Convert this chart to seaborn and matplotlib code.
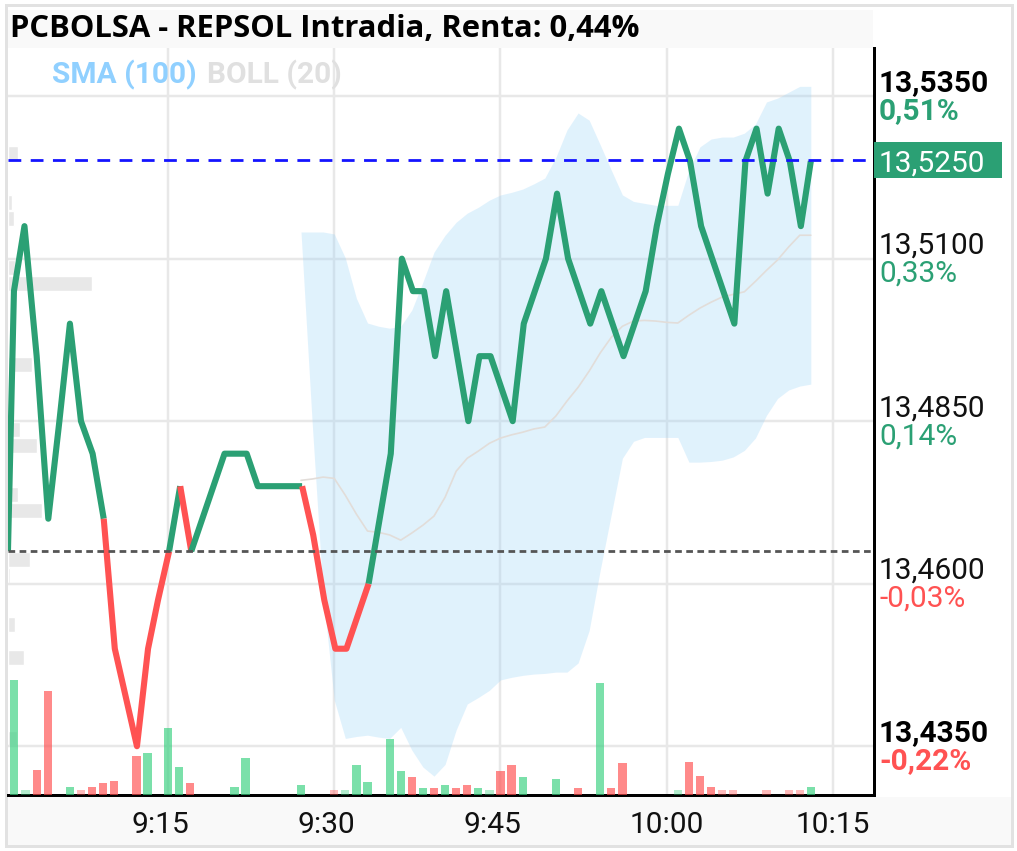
#!/usr/bin/env python3

import matplotlib
matplotlib.use("Agg")
import matplotlib.pyplot as plt
import seaborn as sns
from matplotlib.patches import Rectangle
from matplotlib.transforms import ScaledTranslation

GREEN = "#2ba074"
RED = "#ff5252"

# minutes after 9:00
price_minutes = [0.56, 1.1, 2.05, 3.15, 4.2, 5.2, 6.15, 7.15, 8.2, 9.2, 10.2, 11.2, 12.2, 13.2, 14.1] \
    + [m + 0.1 for m in range(15, 73)] + [73]
prices = [
    13.465, 13.505, 13.515, 13.495, 13.470, 13.485, 13.500, 13.485, 13.480, 13.470,
    13.450, 13.4425, 13.435, 13.450, 13.4575, 13.465, 13.475, 13.465, 13.470, 13.475,
    13.480, 13.480, 13.480, 13.475, 13.475, 13.475, 13.475, 13.475, 13.4675, 13.4575,
    13.450, 13.450, 13.455, 13.460, 13.470, 13.480, 13.510, 13.505, 13.505, 13.495,
    13.505, 13.495, 13.485, 13.495, 13.495, 13.490, 13.485, 13.500, 13.505, 13.510,
    13.520, 13.510, 13.505, 13.500, 13.505, 13.500, 13.495, 13.500, 13.505, 13.515,
    13.523, 13.530, 13.525, 13.515, 13.510, 13.505, 13.500, 13.525, 13.530, 13.520,
    13.530, 13.525, 13.515, 13.525,
]
# index ranges of prices drawn in red, the rest is green
red_runs = [(9, 15), (16, 17), (27, 33)]

band_minutes = list(range(27, 74))
band_upper = [
    13.5141, 13.5141, 13.5141, 13.5138, 13.5101, 13.5039, 13.5001, 13.4996, 13.4993, 13.4996,
    13.5021, 13.5064, 13.5110, 13.5136, 13.5156, 13.5170, 13.5179, 13.5190, 13.5198, 13.5202,
    13.5207, 13.5215, 13.5224, 13.5256, 13.5298, 13.5324, 13.5313, 13.5275, 13.5236, 13.5198,
    13.5188, 13.5185, 13.5182, 13.5182, 13.5182, 13.5236, 13.5272, 13.5284, 13.5287, 13.5287,
    13.5293, 13.5307, 13.5341, 13.5347, 13.5356, 13.5365, 13.5365,
]
band_lower = [
    13.5141, 13.4850, 13.4582, 13.4421, 13.4362, 13.4365, 13.4367, 13.4364, 13.4362, 13.4379,
    13.4344, 13.4318, 13.4304, 13.4322, 13.4375, 13.4415, 13.4425, 13.4436, 13.4452, 13.4456,
    13.4459, 13.4461, 13.4462, 13.4464, 13.4464, 13.4478, 13.4528, 13.4621, 13.4707, 13.4793,
    13.4819, 13.4825, 13.4825, 13.4825, 13.4825, 13.4787, 13.4787, 13.4788, 13.4790, 13.4795,
    13.4805, 13.4824, 13.4859, 13.4885, 13.4898, 13.4904, 13.4907,
]
band_mid = [
    13.4759, 13.4761, 13.4764, 13.4762, 13.4736, 13.4707, 13.4681, 13.4679, 13.4675, 13.4667,
    13.4678, 13.4690, 13.4704, 13.4733, 13.4773, 13.4793, 13.4804, 13.4816, 13.4824, 13.4829,
    13.4833, 13.4838, 13.4841, 13.4858, 13.4881, 13.4902, 13.4927, 13.4955, 13.4979, 13.4996,
    13.5004, 13.5005, 13.5004, 13.5002, 13.5001, 13.5013, 13.5024, 13.5033, 13.5041, 13.5045,
    13.5049, 13.5065, 13.5082, 13.5098, 13.5118, 13.5136, 13.5136,
]

volume_minutes = [
    1.1, 2.15, 3.15, 4.15, 6.15, 7.15, 8.15, 9.15, 10.15, 12.15, 13.15, 15, 16, 17, 21, 22, 27, 30, 31, 32, 33, 35, 36, 37, 38,
    39, 40, 41, 42, 43, 44, 45, 46, 47, 50, 52, 54, 55, 56, 61, 62, 63, 64, 65, 66, 69, 71, 72, 73,
]
volumes = [
    115, 5, 25, 104, 8, 5, 8, 12, 14, 39, 42, 67, 28, 12, 8, 37, 10, 5, 5, 30, 13, 56, 24, 18, 7,
    7, 10, 7, 10, 7, 5, 24, 30, 18, 16, 7, 112, 7, 32, 5, 33, 19, 8, 5, 5, 5, 5, 5, 8,
]
volume_sides = [
    "up", "up", "down", "down", "up", "down", "down", "down", "down", "down", "up", "up", "up",
    "down", "up", "up", "up", "down", "up", "up", "up", "up", "up", "down", "up",
    "down", "up", "down", "down", "up", "up", "down", "down", "up", "up", "down", "up", "down",
    "down", "up", "down", "down", "down", "down", "down", "down", "down", "down", "up",
]

depth_levels = [
    13.5262, 13.5187, 13.5162, 13.5087, 13.5062, 13.4937, 13.4837, 13.4812,
    13.4737, 13.4712, 13.4637, 13.4612, 13.4537, 13.4487, 13.4362,
]
depth_sizes = [10, 4, 6, 7, 84, 24, 12, 29, 10, 34, 22, 2, 7, 16, 9]

grid_prices = [13.535, 13.510, 13.485, 13.460, 13.435]
price_labels = ["13,5350", "13,5100", "13,4850", "13,4600", "13,4350"]
pct_labels = ["0,51%", "0,33%", "0,14%", "-0,03%", "-0,22%"]
time_ticks = [15, 30, 45, 60, 75]
time_labels = ["9:15", "9:30", "9:45", "10:00", "10:15"]
last_price = 13.5251
prev_close = 13.4651

W, H = 1017, 851
AX_LEFT, AX_RIGHT, AX_TOP, AX_BOTTOM = 8, 874, 48, 795
PX = 72 / 100  # points per pixel


def px_rect(fig, x0, y0, x1, y1, **kwargs):
    fig.add_artist(Rectangle((x0 / W, 1 - y1 / H), (x1 - x0) / W, (y1 - y0) / H,
                             transform=fig.transFigure, linewidth=0, **kwargs))


def px_offset(fig, dx, dy):
    return ScaledTranslation(dx / 100, dy / 100, fig.dpi_scale_trans)


def main():
    sns.set_theme(style="white")
    plt.rcParams["font.family"] = ["Roboto", "DejaVu Sans"]

    fig = plt.figure(figsize=(W / 100, H / 100), dpi=100, facecolor="white")

    # page furniture behind the axes
    px_rect(fig, 8, 10, 873, 48, color="#f9f9f9", zorder=-5)
    px_rect(fig, 8, 797, 1011, 845, color="#f9f9f9", zorder=-5)
    fig.add_artist(Rectangle((6 / W, 1 - 846 / H), 1006 / W, 841 / H, transform=fig.transFigure,
                             fill=False, edgecolor="#e2e2e2", linewidth=3 * PX, zorder=-4))

    position = [AX_LEFT / W, 1 - AX_BOTTOM / H, (AX_RIGHT - AX_LEFT) / W, (AX_BOTTOM - AX_TOP) / H]
    ax_depth = fig.add_axes(position, zorder=1)
    ax = fig.add_axes(position, zorder=2)
    ax_vol = fig.add_axes(position, zorder=3)

    sns.barplot(x=depth_sizes, y=depth_levels, orient="y", native_scale=True, color="#e8e8e8",
                saturation=1, width=0.92, ax=ax_depth)
    ax_depth.set_xlim(0, AX_RIGHT - AX_LEFT)
    ax_depth.set_ylim(13.4275, 13.5424)
    ax_depth.set_xticks([])
    ax_depth.set_yticks([])
    ax_depth.set_xlabel("")
    ax_depth.set_ylabel("")
    sns.despine(ax=ax_depth, left=True, bottom=True)

    ax.patch.set_alpha(0)
    ax.fill_between(band_minutes, band_lower, band_upper, color="#9bd4f8", alpha=0.3, linewidth=0, zorder=2)
    sns.lineplot(x=band_minutes, y=band_mid, color="#e2ddd9", linewidth=1.2, estimator=None, ax=ax, zorder=3)

    # price line, split in coloured runs
    start = 0
    for red_start, red_end in red_runs + [(len(prices) - 1, len(prices) - 1)]:
        if red_start > start:
            sns.lineplot(x=price_minutes[start:red_start + 1], y=prices[start:red_start + 1], color=GREEN,
                         linewidth=4.4, estimator=None, ax=ax, zorder=4, solid_capstyle="butt")
        if red_end > red_start:
            sns.lineplot(x=price_minutes[red_start:red_end + 1], y=prices[red_start:red_end + 1], color=RED,
                         linewidth=4.4, estimator=None, ax=ax, zorder=4, solid_capstyle="butt")
        start = red_end

    ax.axhline(prev_close, color="#555555", linewidth=2, dashes=(2.4, 1.6), zorder=5)
    ax.axhline(last_price, color="#1414ff", linewidth=2, dashes=(4.6, 3.4), zorder=5)

    ax.set_xlim(0.564, 78.70)
    ax.set_ylim(13.4275, 13.5424)
    ax.set_xticks(time_ticks, time_labels)
    ax.set_yticks(grid_prices, price_labels)
    ax.yaxis.tick_right()
    ax.grid(True, color="#e8e8e8", linewidth=2.5 * PX)
    ax.set_axisbelow(True)
    ax.tick_params(axis="both", length=0, labelsize=21.5, labelcolor="#111111")
    ax.tick_params(axis="x", pad=11.5)
    ax.tick_params(axis="y", pad=3.5)
    ax.set_xlabel("")
    ax.set_ylabel("")
    for side in ["top", "left"]:
        ax.spines[side].set_visible(False)
    for side in ["right", "bottom"]:
        ax.spines[side].set_color("black")
        ax.spines[side].set_linewidth(3 * PX)

    # the 9:xx labels sit a little left of their gridline
    for label in ax.get_xticklabels()[:3]:
        label.set_transform(label.get_transform() + px_offset(fig, -8, 0))
    for i, label in enumerate(ax.get_yticklabels()):
        label.set_transform(label.get_transform() + px_offset(fig, 0, 16))
        if i in (0, len(price_labels) - 1):
            label.set_fontweight("bold")
            label.set_color("black")

    for i, (level, text) in enumerate(zip(grid_prices, pct_labels)):
        ax.annotate(text, xy=(1, level), xycoords=ax.get_yaxis_transform(), xytext=(5 * PX, -15 * PX),
                    textcoords="offset points", va="center", ha="left", fontsize=21.5,
                    color=RED if text.startswith("-") else GREEN,
                    fontweight="bold" if i in (0, len(pct_labels) - 1) else "normal")

    # last price tag
    tag_height = 18 / 6500
    ax.add_patch(Rectangle((1, last_price - tag_height), 128 / (AX_RIGHT - AX_LEFT), 2 * tag_height,
                           transform=ax.get_yaxis_transform(), clip_on=False, color=GREEN, linewidth=0, zorder=6))
    ax.annotate("13,5250", xy=(1, last_price), xycoords=ax.get_yaxis_transform(), xytext=(5 * PX, -3 * PX),
                textcoords="offset points", va="center", ha="left", fontsize=21.5, color="white", zorder=7)

    sns.barplot(x=volume_minutes, y=volumes, hue=volume_sides, native_scale=True, dodge=False,
                palette={"up": "#37d07f", "down": "#ff4d4d"}, saturation=1, width=0.74, legend=False, ax=ax_vol)
    for bar in ax_vol.patches:
        bar.set_alpha(0.38 if bar.get_height() <= 5 else 0.66)
        bar.set_linewidth(0)
    ax_vol.set_xlim(0.564, 78.70)
    ax_vol.set_ylim(0, AX_BOTTOM - AX_TOP)
    ax_vol.set_xticks([])
    ax_vol.set_yticks([])
    ax_vol.set_xlabel("")
    ax_vol.set_ylabel("")
    ax_vol.patch.set_alpha(0)
    sns.despine(ax=ax_vol, left=True, bottom=True)

    fig.text(10 / W, 1 - 29 / H, "PCBOLSA - REPSOL Intradia, Renta: 0,44%", family=["Open Sans", "DejaVu Sans"],
             fontsize=22.3, fontweight="bold", color="black", va="center", ha="left", zorder=10)
    fig.text(52 / W, 1 - 75 / H, "SMA (100)", fontsize=21.5, fontweight="bold", color="#90d0ff", va="center", zorder=10)
    fig.text(207 / W, 1 - 75 / H, "BOLL (20)", fontsize=21.5, fontweight="bold", color="#e0e0e0", va="center", zorder=10)

    fig.savefig("out.png", dpi=100)
    plt.close(fig)


if __name__ == "__main__":
    main()
